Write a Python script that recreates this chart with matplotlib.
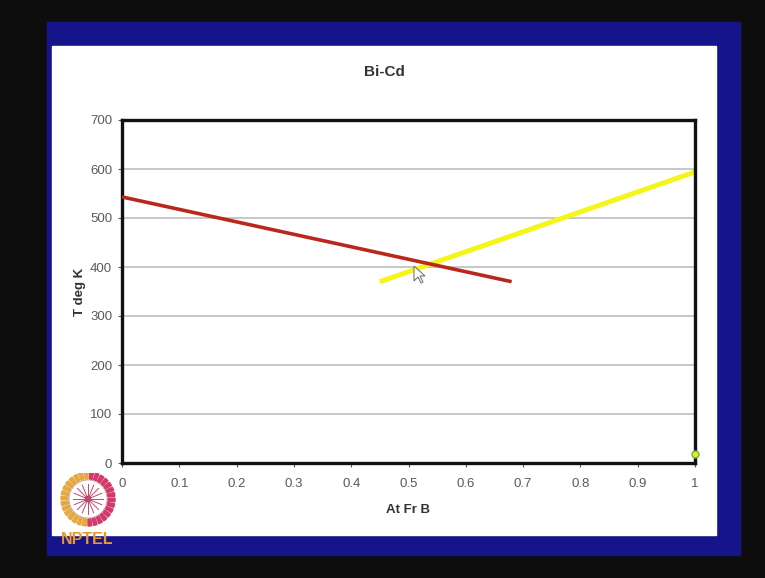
import numpy as np
import matplotlib.pyplot as plt
from matplotlib.patches import Rectangle, Wedge, Circle, Polygon

plt.rcParams['font.family'] = ['Liberation Sans', 'DejaVu Sans']

# data
liq_a_x = [0.0, 0.68]
liq_a_y = [543, 370]
liq_b_x = [0.45, 1.0]
liq_b_y = [370, 594]
pt_x = [1.0]
pt_y = [18]
xticks = [0, 0.1, 0.2, 0.3, 0.4, 0.5, 0.6, 0.7, 0.8, 0.9, 1]
yticks = [0, 100, 200, 300, 400, 500, 600, 700]

W, H = 765, 578


def fx(x):
    return x / W


def fy(y):
    return 1 - y / H


fig = plt.figure(figsize=(7.65, 5.78), dpi=100)
fig.patch.set_facecolor("#0d0d0d")

# slide frame (behind everything)
fig.patches.append(Rectangle((fx(47), fy(555)), (740 - 47) / W, (555 - 22) / H,
                             transform=fig.transFigure, color="#15148a", zorder=-5))
fig.patches.append(Rectangle((fx(52), fy(535)), (716 - 52) / W, (535 - 46) / H,
                             transform=fig.transFigure, color="white", zorder=-4))

ax = fig.add_axes([fx(122), fy(463), (695 - 122) / W, (463 - 120) / H])
ax.set_facecolor("white")
ax.plot(liq_a_x, liq_a_y, color="#b8281c", lw=2.6, solid_capstyle="butt", zorder=3)
ax.plot(liq_b_x, liq_b_y, color="#f5f51a", lw=3.6, solid_capstyle="butt", zorder=2)
ax.plot(pt_x, pt_y, "o", ms=5, mfc="#e0f020", mec="#70b040", zorder=4, clip_on=False)

ax.set_xlim(0, 1)
ax.set_ylim(0, 700)
ax.set_xticks(xticks)
ax.set_xticklabels([f"{t:g}" for t in xticks])
ax.set_yticks(yticks)
ax.grid(axis="y", color="#b8b8b8", lw=1.1)
ax.set_axisbelow(True)
for s in ax.spines.values():
    s.set_linewidth(2.4)
    s.set_color("#111111")
ax.tick_params(colors="#5a5a5a", labelsize=9.5, length=3, width=0.8, pad=8)
ax.tick_params(axis="y", pad=4)
ax.set_xlabel("At Fr B", fontsize=9.5, fontweight="bold", color="#333333", labelpad=10)
ax.set_ylabel("T deg K", fontsize=9.5, fontweight="bold", color="#333333", labelpad=3)
fig.text(fx(384), fy(72), "Bi-Cd", ha="center", va="center", fontsize=11,
         fontweight="bold", color="#333333")

# NPTEL logo
lax = fig.add_axes([fx(58), fy(533), 60 / W, 60 / H])
lax.set_xlim(-30, 30)
lax.set_ylim(-30, 30)
lax.set_aspect("equal")
lax.axis("off")
for a in range(90, 270, 12):
    lax.add_patch(Wedge((0, 4), 27, a, a + 8, width=7, color="#e6a840"))
for a in range(-90, 90, 12):
    lax.add_patch(Wedge((0, 4), 27, a, a + 8, width=7, color="#d23a6a"))
lax.add_patch(Circle((0, 4), 19, fill=False, ec="#c9a0a0", lw=0.6))
for a in np.arange(0, 180, 22.5):
    r = np.deg2rad(a)
    lax.plot([-15 * np.cos(r), 15 * np.cos(r)], [4 - 15 * np.sin(r), 4 + 15 * np.sin(r)],
             color="#c04a70", lw=0.7)
lax.add_patch(Circle((0, 4), 2.5, color="#c02050"))
fig.text(fx(87), fy(540), "NPTEL", ha="center", va="center", fontsize=11.5,
         fontweight="bold", color="#e8982c")

# mouse pointer
cx, cy = 414, 266
pts = [(0, 0), (0, 15), (4, 11), (7, 17), (9, 16), (6, 10), (11, 10)]
fig.patches.append(Polygon([(fx(cx + px), fy(cy + py)) for px, py in pts],
                           closed=True, transform=fig.transFigure, fc="white",
                           ec="#777777", lw=0.8, zorder=10))

fig.savefig("out.png", dpi=100, facecolor=fig.get_facecolor())
